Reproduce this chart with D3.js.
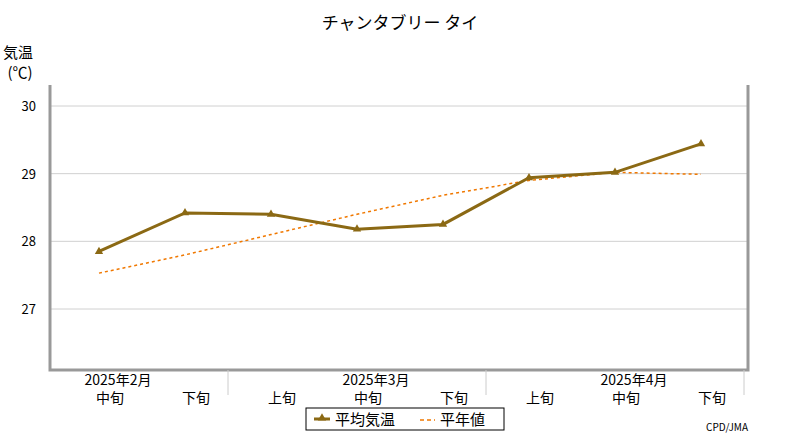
<!DOCTYPE html><html><head><meta charset="utf-8"><script src="https://cdn.jsdelivr.net/npm/d3@7"></script>
<style>body{margin:0;background:#fff}text{font-family:"Noto Sans CJK JP","DejaVu Sans",sans-serif}</style></head><body>
<svg id="c" width="800" height="440"></svg>
<script>
const periods=["中旬","下旬","上旬","中旬","下旬","上旬","中旬","下旬"];
const months=["2025年2月","2025年3月","2025年4月"];
const meanTemp=[27.85,28.42,28.40,28.18,28.25,28.94,29.02,29.44];
const normalTemp=[27.53,27.80,28.10,28.40,28.68,28.90,29.02,28.99];
const yTicks=[27,28,29,30];
const svg=d3.select("#c");
const L=50,R=748,T=85,B=370;
const x=d3.scaleLinear().domain([0,7]).range([99,701]);
const y=d3.scaleLinear().domain([27,30]).range([309,106]);
svg.append("text").attr("x",400).attr("y",29).attr("text-anchor","middle").attr("font-size",17).text("チャンタブリー タイ");
svg.append("text").attr("x",18).attr("y",58).attr("text-anchor","middle").attr("font-size",15).text("気温");
svg.append("text").attr("x",20).attr("y",78).attr("text-anchor","middle").attr("font-size",15).text("(℃)");
svg.selectAll(".g").data(yTicks).enter().append("line").attr("x1",L).attr("x2",R).attr("y1",d=>y(d)).attr("y2",d=>y(d)).attr("stroke","#d0d0d0");
svg.selectAll(".yl").data(yTicks).enter().append("text").attr("x",36).attr("y",d=>y(d)+5).attr("text-anchor","end").attr("font-size",13).text(d=>d);
svg.append("path").attr("d",`M${L},${T}V${B}H${R}V${T}`).attr("fill","none").attr("stroke","#999").attr("stroke-width",3);
[0,1,2].forEach(i=>{const sx=x(i*3+1.5);svg.append("line").attr("x1",sx).attr("x2",sx).attr("y1",B).attr("y2",395).attr("stroke","#ccc");});
svg.selectAll(".ml").data(months).enter().append("text").attr("x",(d,i)=>x(i*3)+19).attr("y",385).attr("text-anchor","middle").attr("font-size",14).text(d=>d);
svg.selectAll(".pl").data(periods).enter().append("text").attr("x",(d,i)=>x(i)+11).attr("y",403).attr("text-anchor","middle").attr("font-size",14).text(d=>d);
const line=d3.line().x((d,i)=>x(i)).y(d=>y(d));
svg.append("path").attr("d",line(normalTemp)).attr("fill","none").attr("stroke","#f07800").attr("stroke-width",1.5).attr("stroke-dasharray","3,3");
svg.append("path").attr("d",line(meanTemp)).attr("fill","none").attr("stroke","#8b6914").attr("stroke-width",3);
const tri=d3.symbol().type(d3.symbolTriangle).size(30);
svg.selectAll(".m").data(meanTemp).enter().append("path").attr("d",tri).attr("transform",(d,i)=>`translate(${x(i)},${y(d)})`).attr("fill","#8b6914");
const lg=svg.append("g");
lg.append("rect").attr("x",306).attr("y",408).attr("width",198).attr("height",22).attr("fill","#fff").attr("stroke","#000");
lg.append("line").attr("x1",314).attr("x2",330).attr("y1",419).attr("y2",419).attr("stroke","#8b6914").attr("stroke-width",3);
lg.append("path").attr("d",tri).attr("transform","translate(322,418)").attr("fill","#8b6914");
lg.append("text").attr("x",335).attr("y",425).attr("font-size",15).text("平均気温");
lg.append("line").attr("x1",420).attr("x2",435).attr("y1",420).attr("y2",420).attr("stroke","#f07800").attr("stroke-width",1.5).attr("stroke-dasharray","4,3");
lg.append("text").attr("x",440).attr("y",425).attr("font-size",15).text("平年値");
svg.append("text").attr("x",748).attr("y",431).attr("text-anchor","end").attr("font-size",10).attr("font-family","DejaVu Sans Mono").text("CPD/JMA");
</script></body></html>
